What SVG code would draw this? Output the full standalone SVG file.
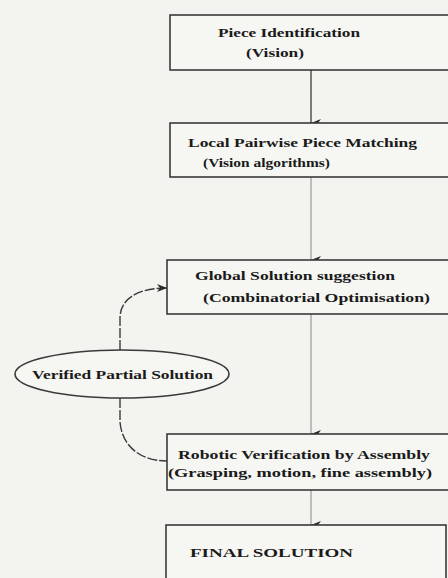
<svg xmlns="http://www.w3.org/2000/svg" width="448" height="578" viewBox="0 0 448 578">
<style>
.bg{fill:#f3f3ef}
.box{fill:#f6f6f3;stroke:#3a3a3a;stroke-width:1.6}
.t{font-family:"Liberation Serif","Times New Roman",serif;font-weight:bold;font-size:12px;fill:#1a1a1a}
.c{fill:none;stroke:#3a3a3a;stroke-width:1.3}
.cl{fill:none;stroke:#9a9a9a;stroke-width:1.2}
.d{fill:none;stroke:#3a3a3a;stroke-width:1.4;stroke-dasharray:10,2}
</style>
<defs>
<marker id="ah" viewBox="0 0 8 10" refX="4" refY="10" markerWidth="8" markerHeight="10" markerUnits="userSpaceOnUse" orient="auto-start-reverse">
<path d="M0,0 L4,10 L8,0 L4,3 Z" fill="#2a2a2a"/>
</marker>
<marker id="ahs" viewBox="0 0 10 8" refX="10" refY="4" markerWidth="10" markerHeight="8" markerUnits="userSpaceOnUse" orient="auto">
<path d="M0,0 L10,4 L0,8 L3,4 Z" fill="#2a2a2a"/>
</marker>
</defs>
<rect class="bg" x="0" y="0" width="448" height="578"/>
<g id="connectors">
<line class="c" x1="311" y1="70" x2="311" y2="123" marker-end="url(#ah)"/>
<line class="cl" x1="311" y1="177" x2="311" y2="260" marker-end="url(#ah)"/>
<line class="cl" x1="311" y1="314" x2="311" y2="434" marker-end="url(#ah)"/>
<line class="cl" x1="311" y1="490" x2="311" y2="525" marker-end="url(#ah)"/>
<path class="d" d="M120,350 L120,318 C120,300 136,288 167,288" marker-end="url(#ahs)"/>
<path class="d" d="M120,398 L120,422 C122,446 140,461 167,461"/>
</g>
<g id="n1">
<rect class="box" x="170" y="15" width="290" height="55"/>
<text class="t" x="218" y="37" textLength="142" lengthAdjust="spacingAndGlyphs">Piece Identification</text>
<text class="t" x="246" y="57" textLength="58" lengthAdjust="spacingAndGlyphs">(Vision)</text>
</g>
<g id="n2">
<rect class="box" x="170" y="123" width="290" height="54"/>
<text class="t" x="188" y="147" textLength="229" lengthAdjust="spacingAndGlyphs">Local Pairwise Piece Matching</text>
<text class="t" x="203" y="167" textLength="127" lengthAdjust="spacingAndGlyphs">(Vision algorithms)</text>
</g>
<g id="n3">
<rect class="box" x="167" y="260" width="293" height="54"/>
<text class="t" x="195" y="280" textLength="200" lengthAdjust="spacingAndGlyphs">Global Solution suggestion</text>
<text class="t" x="203" y="302" textLength="227" lengthAdjust="spacingAndGlyphs">(Combinatorial Optimisation)</text>
</g>
<g id="n4">
<rect class="box" x="167" y="434" width="293" height="56"/>
<text class="t" x="178" y="459" textLength="252" lengthAdjust="spacingAndGlyphs">Robotic Verification by Assembly</text>
<text class="t" x="168" y="477" textLength="264" lengthAdjust="spacingAndGlyphs">(Grasping, motion, fine assembly)</text>
</g>
<g id="n5">
<rect class="box" x="166" y="525" width="280" height="60"/>
<text class="t" x="190" y="557" textLength="163" lengthAdjust="spacingAndGlyphs">FINAL SOLUTION</text>
</g>
<g id="n6">
<ellipse class="box" cx="122" cy="374" rx="107" ry="24"/>
<text class="t" x="32" y="379" textLength="181" lengthAdjust="spacingAndGlyphs">Verified Partial Solution</text>
</g>
</svg>
